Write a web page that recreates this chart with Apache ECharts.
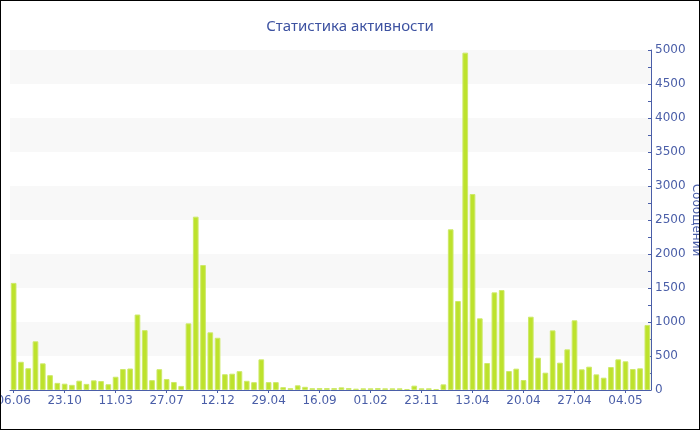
<!DOCTYPE html>
<html>
<head>
<meta charset="utf-8">
<script src="https://cdn.jsdelivr.net/npm/echarts@6/dist/echarts.min.js"></script>
<style>
html,body{margin:0;padding:0;background:#fff;}
#chart{width:700px;height:430px;box-sizing:border-box;border:1px solid #000;}
</style>
</head>
<body>
<div id="chart"></div>
<script>
const titleText = 'Статистика активности';
const yAxisName = 'Сообщений';
const categories = [
  '06.06','26.06','16.07','05.08','25.08','14.09','04.10',
  '23.10','12.11','02.12','22.12','11.01','31.01','20.02',
  '11.03','31.03','20.04','10.05','30.05','19.06','09.07',
  '27.07','16.08','05.09','25.09','15.10','04.11','24.11',
  '12.12','01.01','21.01','10.02','02.03','22.03','11.04',
  '29.04','19.05','08.06','28.06','18.07','07.08','27.08',
  '16.09','06.10','26.10','15.11','05.12','25.12','14.01',
  '01.02','13.03','24.04','05.06','17.07','28.08','09.10',
  '23.11','13.12','02.01','22.01','11.02','03.03','23.03',
  '13.04','14.04','15.04','16.04','17.04','18.04','19.04',
  '20.04','21.04','22.04','23.04','24.04','25.04','26.04',
  '27.04','28.04','29.04','30.04','01.05','02.05','03.05',
  '04.05','05.05','06.05','07.05'
];
const messages = [
  1575, 415, 320, 716, 392, 218, 105,
  93, 76, 137, 90, 142, 132, 85,
  195, 309, 316, 1110, 880, 145, 306,
  162, 118, 60, 980, 2549, 1838, 848,
  768, 232, 240, 277, 135, 115, 451,
  116, 116, 42, 27, 69, 47, 27,
  29, 29, 29, 39, 29, 20, 25,
  25, 29, 25, 25, 25, 15, 64,
  25, 25, 15, 83, 2363, 1309, 4961,
  2882, 1054, 397, 1436, 1470, 279, 314,
  147, 1078, 475, 255, 877, 402, 598,
  1025, 304, 343, 230, 181, 338, 451,
  422, 309, 319, 956
];

const blue = '#4a5ea8';
const chart = echarts.init(document.getElementById('chart'));
chart.setOption({
  animation: false,
  backgroundColor: '#fff',
  title: {
    text: titleText,
    left: 'center',
    top: 13,
    textStyle: {color: '#3d52a1', fontSize: 15, fontWeight: 'normal', fontFamily: 'Noto Sans'}
  },
  grid: {left: 9, right: 48, top: 49, bottom: 39, containLabel: false, outerBoundsMode: 'none'},
  xAxis: {
    type: 'category',
    data: categories,
    axisLine: {lineStyle: {color: blue, width: 1}},
    axisTick: {show: true, alignWithLabel: true, interval: 6, length: 3, lineStyle: {color: blue}},
    axisLabel: {interval: 6, color: blue, fontSize: 12, fontFamily: 'DejaVu Sans', margin: 5},
    splitLine: {show: false}
  },
  yAxis: {
    type: 'value',
    position: 'right',
    min: 0,
    max: 5000,
    interval: 500,
    name: yAxisName,
    nameLocation: 'middle',
    nameRotate: -90,
    nameGap: 39,
    nameMoveOverlap: false,
    nameTextStyle: {color: blue, fontSize: 12, fontFamily: 'DejaVu Sans'},
    axisLine: {show: true, lineStyle: {color: blue, width: 1}},
    axisTick: {show: true, inside: true, length: 3, lineStyle: {color: blue}},
    minorTick: {show: true, splitNumber: 2, length: 3, lineStyle: {color: blue}},
    axisLabel: {color: blue, fontSize: 12, fontFamily: 'DejaVu Sans', margin: 4, formatter: function (v) { return String(v); }},
    splitLine: {show: false},
    splitArea: {show: true, areaStyle: {color: ['#ffffff', '#f8f8f8']}}
  },
  series: [{
    type: 'bar',
    data: messages,
    barCategoryGap: '22%',
    itemStyle: {color: '#bde22c', borderColor: '#cde96a', borderWidth: 1}
  }]
});
</script>
</body>
</html>
